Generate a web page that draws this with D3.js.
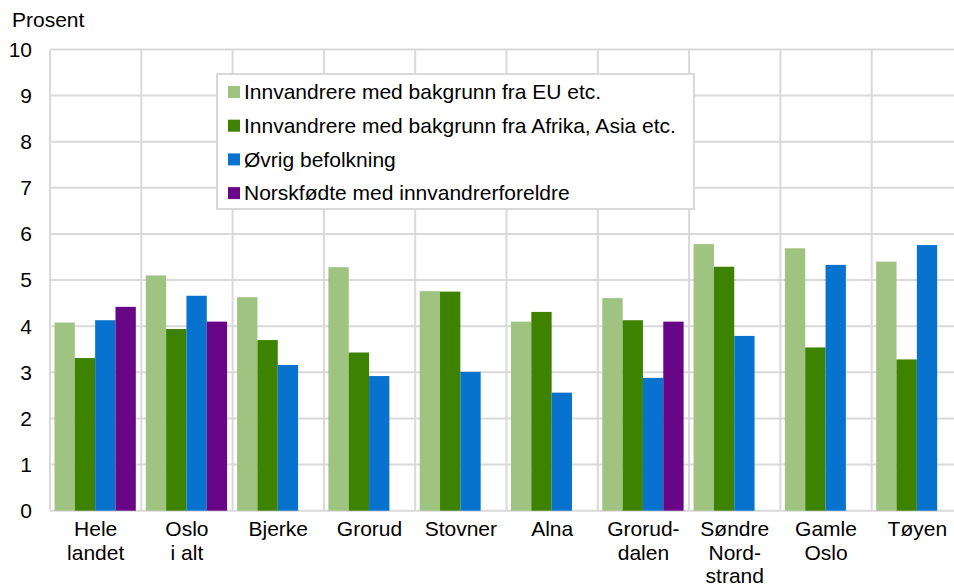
<!DOCTYPE html>
<html>
<head>
<meta charset="utf-8">
<script src="https://cdn.jsdelivr.net/npm/d3@7"></script>
<style>
  html, body { margin: 0; padding: 0; background: #fff; }
  svg { display: block; font-family: "Liberation Sans", Arial, sans-serif; }
</style>
</head>
<body>
<svg id="chart" width="954" height="584"></svg>
<script>
// kategorier (linjer i etiketten skilt med |)
const categories = ["Hele|landet", "Oslo|i alt", "Bjerke", "Grorud", "Stovner", "Alna",
                    "Grorud-|dalen", "Søndre|Nord-|strand", "Gamle|Oslo", "Tøyen"];
const seriesNames = ["Innvandrere med bakgrunn fra EU etc.",
                     "Innvandrere med bakgrunn fra Afrika, Asia etc.",
                     "Øvrig befolkning",
                     "Norskfødte med innvandrerforeldre"];
const euEtc    = [4.08, 5.10, 4.63, 5.28, 4.76, 4.10, 4.61, 5.78, 5.69, 5.40];
const afrAsia  = [3.31, 3.94, 3.70, 3.43, 4.75, 4.31, 4.13, 5.29, 3.54, 3.28];
const ovrig    = [4.13, 4.66, 3.16, 2.92, 3.01, 2.56, 2.88, 3.79, 5.33, 5.76];
const norskf   = [4.42, 4.10, null, null, null, null, 4.10, null, null, null];
const yTicks   = [0, 1, 2, 3, 4, 5, 6, 7, 8, 9, 10];
const colors   = ["#9fc380", "#3d8200", "#0773cf", "#690687"];

const series = [euEtc, afrAsia, ovrig, norskf];

const svg = d3.select("#chart"),
      plotLeft = 50, plotRight = 963, plotTop = 49.5, plotBottom = 510.7,
      fontSize = 21;

const x = d3.scaleBand().domain(categories).range([plotLeft, plotRight]);
const xs = d3.scaleBand().domain(d3.range(series.length)).range([4.5, x.bandwidth() - 5.5]);
const y = d3.scaleLinear().domain([0, 10]).range([plotBottom, plotTop]);

const grid = svg.append("g").attr("stroke", "#d9d9d9").attr("stroke-width", 2);
// horisontale linjer
grid.selectAll("line.h").data(yTicks).join("line")
  .attr("x1", plotLeft).attr("x2", 954)
  .attr("y1", d => y(d)).attr("y2", d => y(d));
// vertikale linjer mellom kategoriene
grid.selectAll("line.v").data(categories).join("line")
  .attr("x1", d => x(d)).attr("x2", d => x(d))
  .attr("y1", plotTop).attr("y2", plotBottom);

// søyler
series.forEach((vals, si) => {
  svg.append("g").attr("fill", colors[si])
    .selectAll("rect")
    .data(categories.map((c, i) => ({ c, v: vals[i] })).filter(d => d.v != null))
    .join("rect")
    .attr("x", d => x(d.c) + xs(si))
    .attr("width", xs.bandwidth())
    .attr("y", d => y(d.v))
    .attr("height", d => y(0) - y(d.v));
});

// y-akse
svg.append("g").selectAll("text").data(yTicks).join("text")
  .attr("x", 32).attr("y", d => y(d))
  .attr("dy", "0.35em")
  .attr("text-anchor", "end")
  .attr("font-size", fontSize)
  .text(d => d);

svg.append("text")
  .attr("x", 12).attr("y", 27)
  .attr("font-size", fontSize)
  .text("Prosent");

// x-akse etiketter
const xl = svg.append("g").selectAll("text").data(categories).join("text")
  .attr("x", d => x(d) + x.bandwidth() / 2)
  .attr("y", 536)
  .attr("text-anchor", "middle")
  .attr("font-size", fontSize);
xl.selectAll("tspan").data(d => d.split("|")).join("tspan")
  .attr("x", function() { return this.parentNode.getAttribute("x"); })
  .attr("dy", (d, i) => i ? 23.5 : 0)
  .text(d => d);

// forklaring
const lg = svg.append("g").attr("transform", "translate(217,74)");
lg.append("rect")
  .attr("width", 477).attr("height", 135)
  .attr("fill", "#fff").attr("stroke", "#d9d9d9").attr("stroke-width", 2);
const items = lg.selectAll("g.item").data(seriesNames).join("g")
  .attr("transform", (d, i) => `translate(11,${18 + i * 33.7})`);
items.append("rect")
  .attr("y", -6).attr("width", 12).attr("height", 12)
  .attr("fill", (d, i) => colors[i]);
items.append("text")
  .attr("x", 16).attr("dy", "0.35em")
  .attr("font-size", fontSize)
  .text(d => d);
</script>
</body>
</html>
